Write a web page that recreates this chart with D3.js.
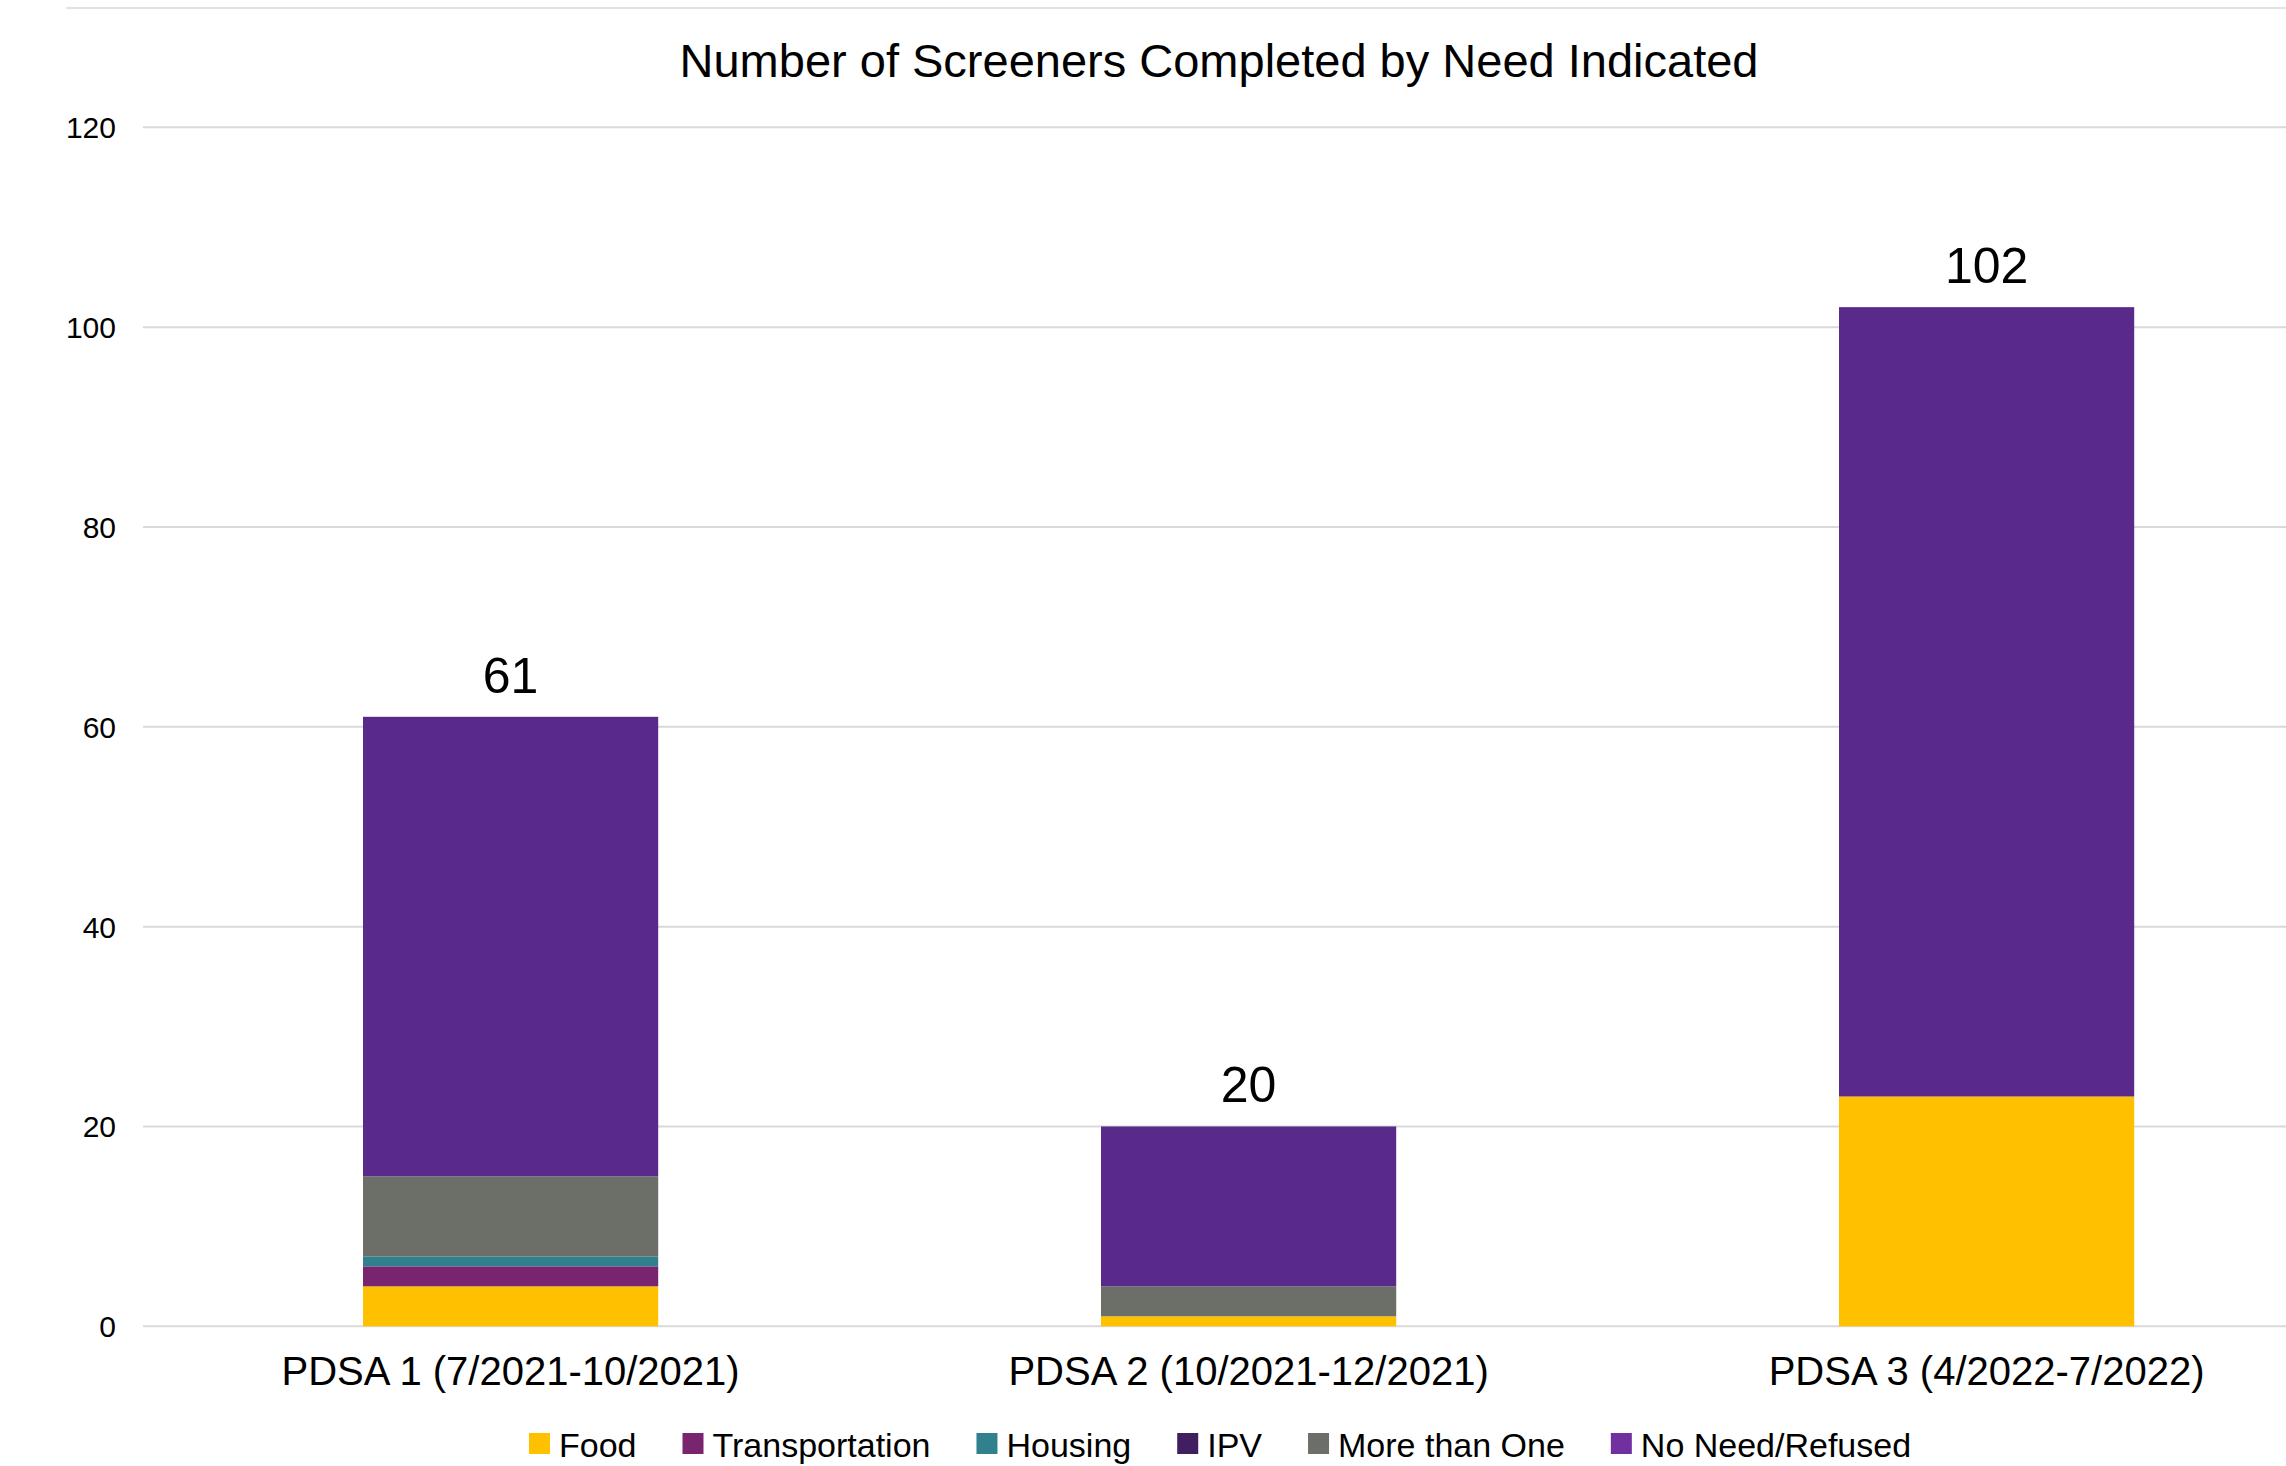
<!DOCTYPE html>
<html>
<head>
<meta charset="utf-8">
<script src="https://cdn.jsdelivr.net/npm/d3@7"></script>
<style>
  html, body { margin: 0; padding: 0; background: #ffffff; }
  svg { display: block; font-family: "Liberation Sans", Arial, sans-serif; }
</style>
</head>
<body>
<svg id="chart" width="2286" height="1466"></svg>
<script>
// ---- Data ----
const title = "Number of Screeners Completed by Need Indicated";
const categories = ["PDSA 1 (7/2021-10/2021)", "PDSA 2 (10/2021-12/2021)", "PDSA 3 (4/2022-7/2022)"];
const seriesNames = ["Food", "Transportation", "Housing", "IPV", "More than One", "No Need/Refused"];
const food = [4, 1, 23];
const transportation = [2, 0, 0];
const housing = [1, 0, 0];
const ipv = [0, 0, 0];
const moreThanOne = [8, 3, 0];
const noNeed = [46, 16, 79];
const yTicks = [0, 20, 40, 60, 80, 100, 120];
const seriesColors = ["#FFC000", "#78246E", "#31808D", "#3F1F5F", "#6C6F67", "#592A8A"];
const legendColors = ["#FFC000", "#78246E", "#31808D", "#3F1F5F", "#6C6F67", "#7030A0"];

const seriesValues = [food, transportation, housing, ipv, moreThanOne, noNeed];
const table = categories.map((c, i) => {
  const row = { category: c };
  seriesNames.forEach((s, j) => { row[s] = seriesValues[j][i]; });
  return row;
});
const totals = categories.map((c, i) => d3.sum(seriesValues, v => v[i]));

// ---- Layout ----
const svg = d3.select("#chart");
const W = 2286;
const x = d3.scaleBand().domain(categories).range([141.6, 2355.6]).paddingInner(0.6).paddingOuter(0.3);
const y = d3.scaleLinear().domain([0, 120]).range([1326.3, 127.3]);
const color = d3.scaleOrdinal().domain(seriesNames).range(seriesColors);

// top border line
svg.append("line").attr("x1", 66).attr("x2", W).attr("y1", 8).attr("y2", 8)
  .attr("stroke", "#d9d9d9").attr("stroke-width", 1.5);

// gridlines + y axis
const yAxis = d3.axisLeft(y).tickValues(yTicks).tickSize(0).tickPadding(0);
const gy = svg.append("g").attr("transform", "translate(116,0)").call(yAxis);
gy.select(".domain").remove();
gy.selectAll("text").attr("font-size", 30).attr("fill", "#000").attr("font-family", "Liberation Sans, Arial, sans-serif").attr("dy", "0.35em");

svg.append("g").selectAll("line").data(yTicks).join("line")
  .attr("x1", 143).attr("x2", W)
  .attr("y1", d => y(d)).attr("y2", d => y(d))
  .attr("stroke", "#d9d9d9").attr("stroke-width", 2);

// stacked bars
const stack = d3.stack().keys(seriesNames);
const stacked = stack(table);
svg.append("g").selectAll("g").data(stacked).join("g")
  .attr("fill", d => color(d.key))
  .selectAll("rect").data(d => d).join("rect")
  .attr("x", d => x(d.data.category))
  .attr("width", x.bandwidth())
  .attr("y", d => y(d[1]))
  .attr("height", d => Math.max(0, y(d[0]) - y(d[1])));

// total labels
svg.append("g").selectAll("text").data(categories).join("text")
  .attr("x", d => x(d) + x.bandwidth() / 2)
  .attr("y", (d, i) => y(totals[i]) - 24)
  .attr("text-anchor", "middle")
  .attr("font-size", 50)
  .attr("fill", "#000")
  .text((d, i) => totals[i]);

// x axis labels
const xAxis = d3.axisBottom(x).tickSize(0).tickPadding(0);
const gx = svg.append("g").attr("transform", "translate(0,1385)").call(xAxis);
gx.select(".domain").remove();
gx.selectAll("text").attr("font-size", 40).attr("fill", "#000").attr("font-family", "Liberation Sans, Arial, sans-serif").attr("dy", 0);

// title
svg.append("text").attr("x", 1219).attr("y", 76.7).attr("text-anchor", "middle")
  .attr("font-size", 47).attr("fill", "#000").text(title);

// legend
const legend = svg.append("g");
let lx = 529;
seriesNames.forEach((s, i) => {
  legend.append("rect").attr("x", lx).attr("y", 1433).attr("width", 21).attr("height", 21).attr("fill", legendColors[i]);
  const t = legend.append("text").attr("x", lx + 30).attr("y", 1456.7).attr("font-size", 34).attr("fill", "#000").text(s);
  const w = t.node().getComputedTextLength();
  lx = lx + 30 + w + 46;
});
</script>
</body>
</html>
